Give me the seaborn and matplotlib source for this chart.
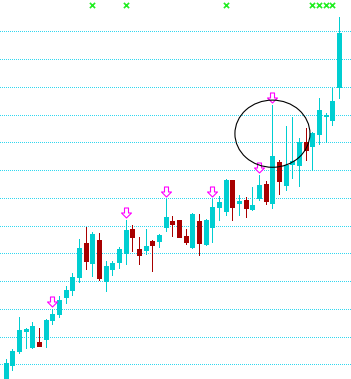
import numpy as np
import pandas as pd
import matplotlib
matplotlib.use("Agg")
import matplotlib.pyplot as plt
from matplotlib.path import Path
from matplotlib.patches import Ellipse
import seaborn as sns
import seaborn.objects as so

# ---------------- data ----------------
opens = [98.3, 93.3, 99.7, 104.8, 112.0, 106.3, 108.1, 109.1, 116.0, 118.2,
         124.4, 126.8, 131.6, 143.8, 136.4, 144.8, 130.1, 134.2, 137.0, 140.2,
         148.8, 141.5, 141.2, 144.4, 144.5, 149.6, 151.6, 152.0, 146.2, 142.3,
         151.6, 143.4, 149.6, 156.8, 155.4, 166.4, 158.2, 159.2, 156.1, 159.8,
         165.0, 158.1, 173.0, 164.6, 172.2, 171.8, 180.2, 178.8, 183.0, 189.5,
         188.0, 200.0]
highs = [99.4, 101.8, 105.5, 117.2, 113.0, 115.4, 113.0, 116.3, 119.8, 124.6,
         128.2, 132.8, 145.0, 149.6, 147.8, 147.4, 137.3, 137.3, 142.2, 152.0,
         150.2, 145.8, 148.6, 144.8, 147.0, 159.6, 153.4, 152.0, 148.6, 154.6,
         154.2, 152.2, 159.7, 160.5, 166.7, 166.5, 161.0, 160.2, 164.0, 168.2,
         166.2, 193.4, 173.6, 185.7, 189.2, 181.5, 185.0, 183.8, 195.9, 190.7,
         199.5, 225.3]
lows = [92.5, 92.2, 97.9, 104.1, 105.9, 106.0, 106.6, 106.3, 114.4, 117.2,
        122.1, 125.0, 129.8, 134.2, 131.8, 130.4, 126.5, 132.2, 134.7, 136.3,
        140.9, 136.0, 139.9, 133.7, 142.4, 148.1, 146.2, 146.0, 143.4, 141.8,
        139.4, 143.0, 144.2, 152.0, 153.8, 152.0, 153.8, 153.2, 155.6, 159.2,
        157.6, 156.2, 161.5, 162.8, 167.1, 164.3, 173.6, 170.0, 179.4, 180.2,
        186.2, 195.9]
closes = [93.6, 100.6, 104.8, 112.4, 112.7, 113.8, 106.7, 116.0, 118.2, 123.2,
          126.8, 131.6, 141.8, 137.3, 147.0, 131.2, 135.4, 136.5, 141.4, 148.4,
          145.8, 139.5, 142.6, 143.0, 146.6, 153.0, 150.6, 146.0, 144.1, 154.3,
          143.7, 152.0, 156.6, 158.5, 166.4, 156.8, 158.9, 156.2, 157.4, 164.6,
          159.0, 175.1, 166.2, 171.8, 173.3, 180.2, 177.2, 183.2, 191.6, 189.8,
          194.9, 219.5]
grid_levels = [100, 110, 120, 130, 140, 150, 160, 170, 180, 190, 200, 210, 220]
cross_bars = [14, 19, 34, 47, 48, 49, 50]
cross_level = 229.5
arrow_bars = [8, 19, 25, 32, 39, 41]
ellipse_center = (41.0, 183.1)
ellipse_size = (11.25, 24.2)

# ---------------- styling ----------------
CYAN = "#00CED1"
RED = "#A80000"
GRID = "#30D8F0"
GREEN = "#22EE22"
MAGENTA = "#FF00FF"

df = pd.DataFrame({"idx": np.arange(len(opens)), "open": opens, "high": highs,
                   "low": lows, "close": closes})
df["body_lo"] = df[["open", "close"]].min(axis=1)
df["body_hi"] = df[["open", "close"]].max(axis=1)
df["dir"] = np.where(df["close"] >= df["open"], "up", "down")
up = df[df["dir"] == "up"]
dn = df[df["dir"] == "down"]

sns.set_style("white")
fig = plt.figure(figsize=(3.51, 3.79), dpi=100)
ax = fig.add_axes([0, 0, 1, 1])

for lv in grid_levels:
    ax.axhline(lv, color=GRID, lw=0.72, ls=(0, (1.0, 2.0)), zorder=0.5,
               antialiased=False)

wick_lw = 0.72
body_lw = 3.45
kw = {"capstyle": "butt", "antialiased": False}
(
    so.Plot(df, x="idx")
    .add(so.Range(color=CYAN, linewidth=wick_lw, artist_kws=kw), data=up, ymin="low", ymax="high")
    .add(so.Range(color=RED, linewidth=wick_lw, artist_kws=kw), data=dn, ymin="low", ymax="high")
    .add(so.Range(color=CYAN, linewidth=body_lw, artist_kws=kw), data=up, ymin="body_lo", ymax="body_hi")
    .add(so.Range(color=RED, linewidth=body_lw, artist_kws=kw), data=dn, ymin="body_lo", ymax="body_hi")
    .theme(sns.axes_style("white"))
    .on(ax)
    .plot()
)

# green signal crosses
sns.scatterplot(x=cross_bars, y=[cross_level] * len(cross_bars), marker="x",
                color=GREEN, s=14, linewidth=1.2, ax=ax, zorder=5, legend=False)

# hollow magenta down arrows above the highs
arrow_path = Path([(0, 2.5), (5, 7.5), (2, 7.5), (2, 12.5), (-2, 12.5),
                   (-2, 7.5), (-5, 7.5), (0, 2.5)],
                  [Path.MOVETO] + [Path.LINETO] * 6 + [Path.CLOSEPOLY])
sns.scatterplot(x=arrow_bars, y=[highs[i] for i in arrow_bars], marker=arrow_path,
                s=324, facecolor="white", edgecolor=MAGENTA, linewidth=0.8,
                ax=ax, zorder=6, legend=False)

ax.add_patch(Ellipse(ellipse_center, ellipse_size[0], ellipse_size[1], fill=False,
                     edgecolor="black", lw=0.8, zorder=7))

ax.set_xlim(0.15, 52.78)
ax.set_ylim(94.70, 231.28)
ax.set_axis_off()
fig.patch.set_facecolor("white")
fig.savefig("out.png", dpi=100, facecolor="white")
